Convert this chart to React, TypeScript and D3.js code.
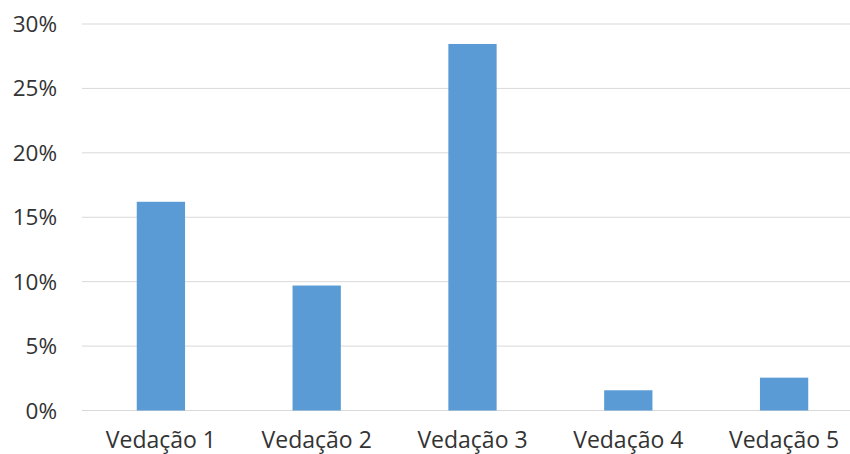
import { useEffect, useRef } from 'react';
import * as d3 from 'd3';

const categories = ['Vedação 1', 'Vedação 2', 'Vedação 3', 'Vedação 4', 'Vedação 5'];
const values = [0.162, 0.097, 0.2845, 0.0157, 0.0255];
const yTicks = [0, 0.05, 0.1, 0.15, 0.2, 0.25, 0.3];

export default function App() {
  const svgRef = useRef<SVGSVGElement>(null);

  useEffect(() => {
    if (!svgRef.current) return;
    const svg = d3.select(svgRef.current);
    svg.selectAll('*').remove();

    const width = 850;
    const height = 454;
    const left = 83;
    const right = 862;
    const top = 24;
    const bottom = 410.5;

    const x = d3.scaleBand<string>().domain(categories).range([left, right]).padding(0);
    const y = d3.scaleLinear().domain([0, 0.3]).range([bottom, top]);
    const barW = x.bandwidth() * 0.31;

    svg.append('rect').attr('width', width).attr('height', height).attr('fill', 'white');

    // gridlines
    svg.append('g')
      .selectAll('line')
      .data(yTicks)
      .enter().append('line')
      .attr('x1', left - 1)
      .attr('x2', width)
      .attr('y1', d => y(d))
      .attr('y2', d => y(d))
      .attr('stroke', '#d9d9d9')
      .attr('stroke-width', 1);

    // bars
    svg.append('g')
      .selectAll('rect')
      .data(values)
      .enter().append('rect')
      .attr('x', (_, i) => x(categories[i])! + x.bandwidth() / 2 - barW / 2)
      .attr('width', barW)
      .attr('y', d => y(d))
      .attr('height', d => bottom - y(d))
      .attr('fill', '#5b9bd5');

    const font = '"Open Sans", "Noto Sans", sans-serif';

    // y labels
    svg.append('g')
      .selectAll('text')
      .data(yTicks)
      .enter().append('text')
      .attr('x', 57)
      .attr('y', d => y(d) + 8)
      .attr('text-anchor', 'end')
      .style('font-family', font)
      .style('font-size', '22.5px')
      .attr('fill', '#333333')
      .text(d => d3.format('.0%')(d));

    // x labels
    svg.append('g')
      .selectAll('text')
      .data(categories)
      .enter().append('text')
      .attr('x', d => x(d)! + x.bandwidth() / 2)
      .attr('y', 448)
      .attr('text-anchor', 'middle')
      .style('font-family', font)
      .style('font-size', '23px')
      .attr('fill', '#333333')
      .text(d => d);
  }, []);

  return (
    <svg
      ref={svgRef}
      width={850}
      height={454}
      style={{ position: 'absolute', left: 0, top: 0 }}
    />
  );
}
